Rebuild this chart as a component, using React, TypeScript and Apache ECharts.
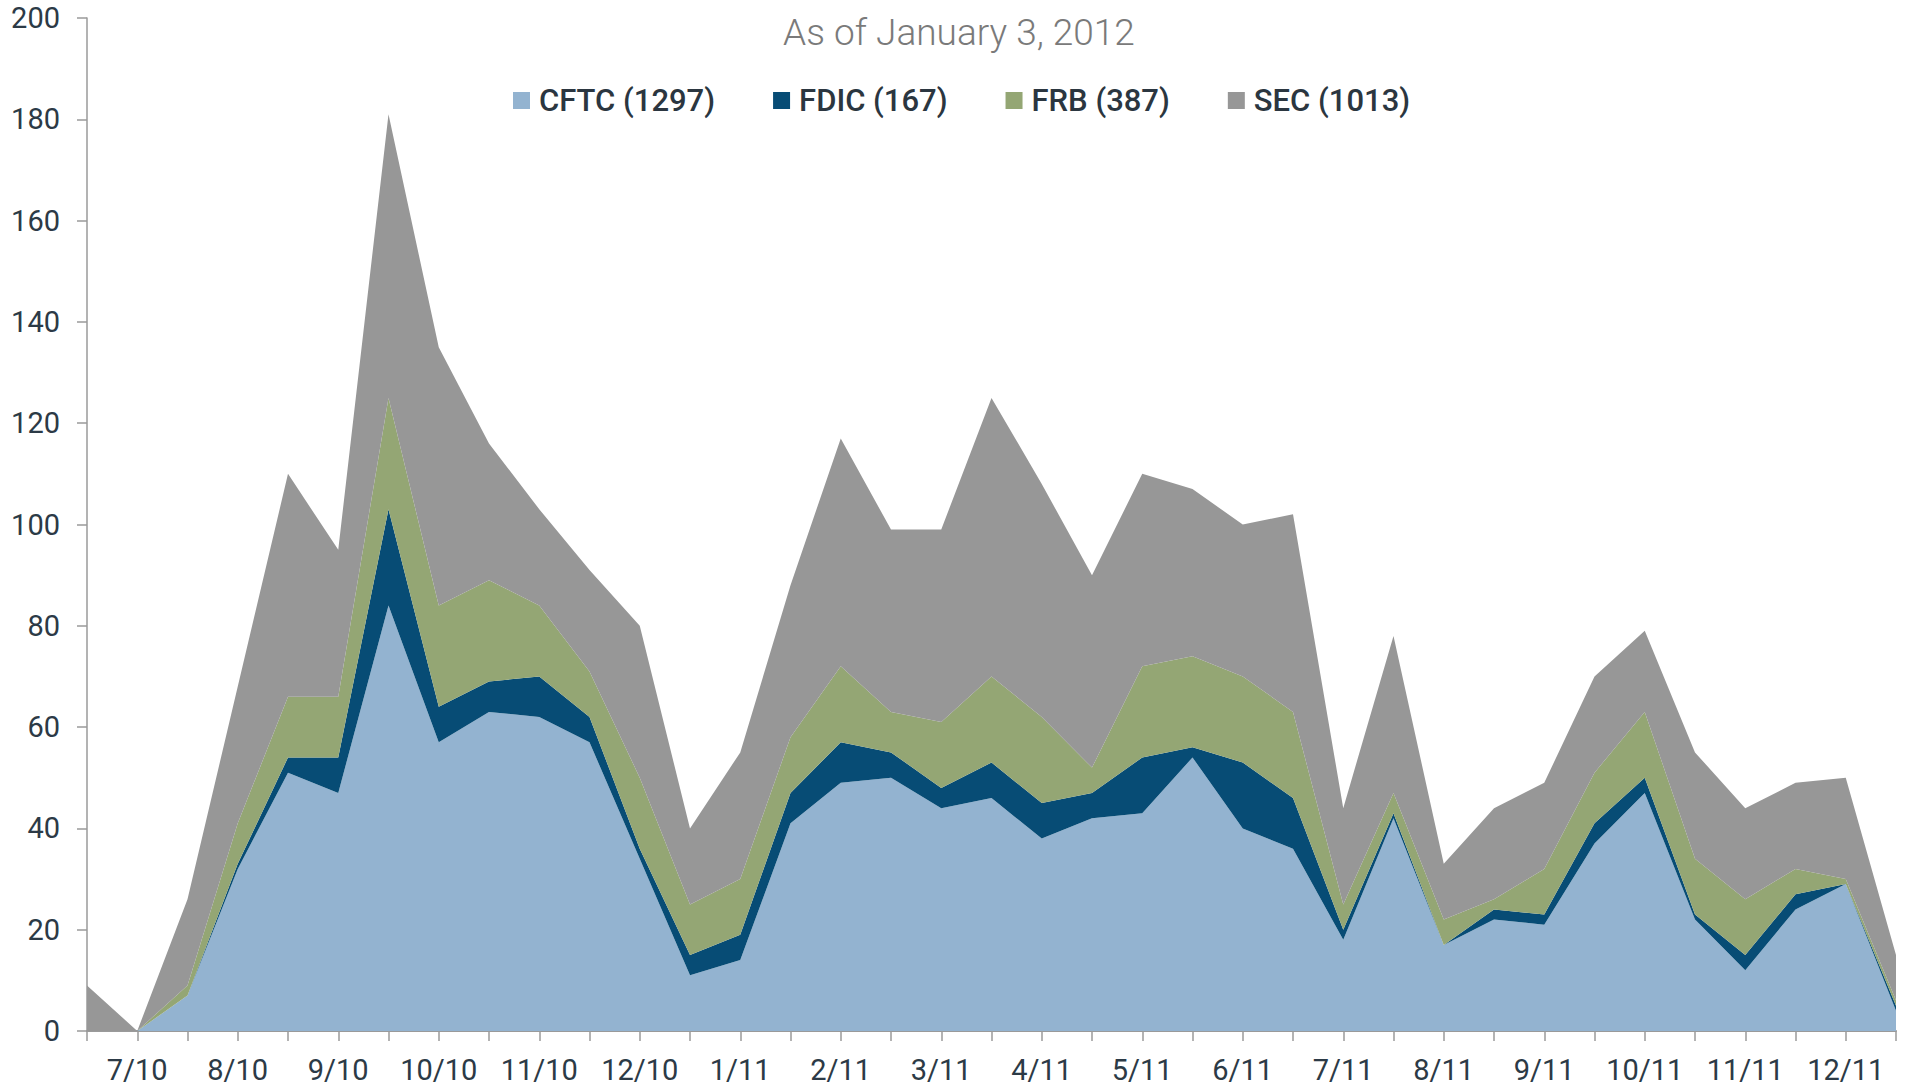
import React, { useEffect, useRef } from "react";
import * as echarts from "echarts";

const periods: string[] = [
  "", "7/10", "", "8/10", "", "9/10", "", "10/10", "", "11/10", "", "12/10",
  "", "1/11", "", "2/11", "", "3/11", "", "4/11", "", "5/11", "", "6/11",
  "", "7/11", "", "8/11", "", "9/11", "", "10/11", "", "11/11", "", "12/11", "",
];

const cftc: number[] = [
  0, 0, 7, 32, 51, 47, 84, 57, 63, 62, 57, 34, 11, 14, 41, 49, 50, 44, 46,
  38, 42, 43, 54, 40, 36, 18, 42, 17, 22, 21, 37, 47, 22, 12, 24, 29, 4,
];
const fdic: number[] = [
  0, 0, 0, 1, 3, 7, 19, 7, 6, 8, 5, 2, 4, 5, 6, 8, 5, 4, 7,
  7, 5, 11, 2, 13, 10, 2, 1, 0, 2, 2, 4, 3, 1, 3, 3, 0, 1,
];
const frb: number[] = [
  0, 0, 2, 8, 12, 12, 22, 20, 20, 14, 9, 14, 10, 11, 11, 15, 8, 13, 17,
  17, 5, 18, 18, 17, 17, 5, 4, 5, 2, 9, 10, 13, 11, 11, 5, 1, 1,
];
const sec: number[] = [
  9, 0, 17, 27, 44, 29, 56, 51, 27, 19, 20, 30, 15, 25, 30, 45, 36, 38, 55,
  46, 38, 38, 33, 30, 39, 19, 31, 11, 18, 17, 19, 16, 21, 18, 17, 20, 9,
];

const seriesNames = ["CFTC (1297)", "FDIC (167)", "FRB (387)", "SEC (1013)"];
const seriesColors = ["#93b3d0", "#074c75", "#94a674", "#979797"];
const titleText = "As of January 3, 2012";
const yMin = 0;
const yMax = 200;
const yStep = 20;

const FONT = "Roboto, 'Liberation Sans', Arial, sans-serif";

export default function App() {
  const ref = useRef<HTMLDivElement>(null);
  useEffect(() => {
    document.body.style.margin = "0";
    if (!ref.current) return;
    const chart = echarts.init(ref.current, undefined, { renderer: "svg" });
    const data = [cftc, fdic, frb, sec];
    chart.setOption({
      animation: false,
      backgroundColor: "#ffffff",
      title: {
        text: titleText,
        left: 954,
        textAlign: "center",
        top: 9,
        textStyle: {
          fontFamily: FONT,
          fontSize: 37,
          fontWeight: 300,
          color: "#7a7a7a",
        },
      },
      legend: {
        left: 508,
        top: 80,
        itemWidth: 17,
        itemHeight: 17,
        itemGap: 58,
        icon: "rect",
        textStyle: {
          fontFamily: FONT,
          fontSize: 31,
          fontWeight: 500,
          color: "#2b3640",
          padding: [0, 0, 0, 4],
        },
        data: seriesNames,
      },
      grid: { left: 87, right: 10, top: 18, bottom: 55, containLabel: false },
      xAxis: {
        type: "category",
        boundaryGap: false,
        data: periods,
        axisLine: { lineStyle: { color: "#9a9a9a", width: 2 } },
        axisTick: {
          show: true,
          interval: 0,
          length: 10,
          lineStyle: { color: "#9a9a9a", width: 1.5 },
        },
        axisLabel: {
          interval: 0,
          margin: 24,
          fontFamily: FONT,
          fontSize: 29,
          color: "#2c3a46",
        },
        splitLine: { show: false },
      },
      yAxis: {
        type: "value",
        min: yMin,
        max: yMax,
        interval: yStep,
        axisLine: { show: true, lineStyle: { color: "#9a9a9a", width: 1.5 } },
        axisTick: { show: true, length: 10, lineStyle: { color: "#9a9a9a", width: 1.5 } },
        axisLabel: {
          margin: 27,
          fontFamily: FONT,
          fontSize: 29,
          color: "#2c3a46",
        },
        splitLine: { show: false },
      },
      series: seriesNames.map((name, i) => ({
        name,
        type: "line",
        stack: "total",
        data: data[i],
        symbol: "none",
        showSymbol: false,
        lineStyle: { width: 0 },
        itemStyle: { color: seriesColors[i] },
        areaStyle: { color: seriesColors[i], opacity: 1 },
        z: 2,
      })),
    });
    return () => chart.dispose();
  }, []);
  return <div ref={ref} style={{ width: 1906, height: 1086 }} />;
}
